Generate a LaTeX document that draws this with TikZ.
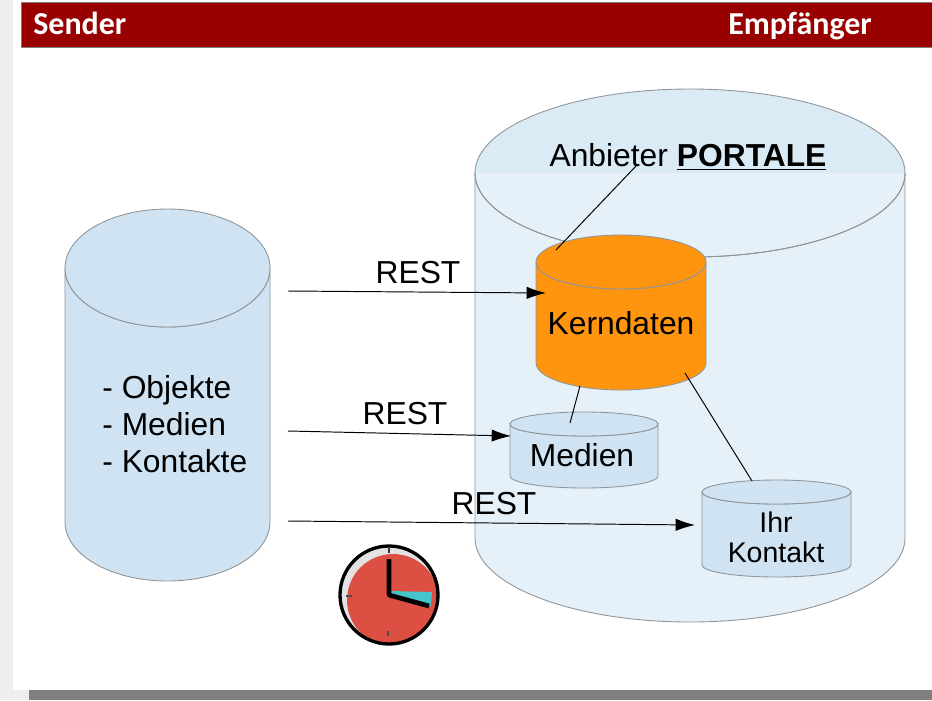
\documentclass[tikz,border=0pt]{standalone}
\usepackage{fontspec}
\setmainfont{Liberation Sans}
\newfontfamily\headfont{Carlito}
\usetikzlibrary{arrows.meta}
\tikzset{
  cylfill/.style={fill=#1,draw=cyledge,line width=0.5pt},
  conn/.style={draw=black,line width=0.55pt},
  arrowconn/.style={conn,-{Latex[length=11pt,width=7pt]}},
  lbl/.style={font=\fontsize{18.1}{21}\selectfont,inner sep=0pt,text=black},
  head/.style={font=\headfont\bfseries\fontsize{18.2}{21}\selectfont,text=white,inner sep=0pt,anchor=base west},
}
\definecolor{cyledge}{HTML}{8F9599}
\definecolor{bigcyl}{HTML}{E5F0F8}
\definecolor{bigtop}{HTML}{DBEBF6}
\definecolor{lcyl}{HTML}{CFE3F2}
\definecolor{orangec}{HTML}{FF950E}
\definecolor{darkred}{HTML}{990000}
\definecolor{pagegrey}{HTML}{EEEEEE}
\definecolor{bargrey}{HTML}{808080}
\definecolor{clockred}{HTML}{DD4F43}
\definecolor{clockcyan}{HTML}{45C4CC}
\definecolor{clockgrey}{HTML}{E2E2E2}
% #1 centre x, #2 top ellipse y, #3 bottom ellipse y, #4 rx, #5 ry, #6 colour
\newcommand\mycyl[6]{%
  \path[cylfill=#6] (#1-#4,#2) -- (#1-#4,#3) arc[start angle=180,end angle=360,x radius=#4,y radius=-#5] -- (#1+#4,#2) arc[start angle=0,end angle=180,x radius=#4,y radius=#5] -- cycle;
  \path[cylfill=#6] (#1,#2) ellipse[x radius=#4,y radius=#5];
}
\begin{document}
\begin{tikzpicture}[x=0.02cm,y=-0.02cm]
\useasboundingbox (0,0) rectangle (932,700);
\fill[pagegrey] (0,0) rectangle (932,700);
\fill[white] (13,0) rectangle (932,690);
\fill[bargrey] (29,690) rectangle (932,700);
\path[fill=darkred,draw=gray,line width=0.5pt] (21,2) rectangle (932,47);
\node[head] (sender) at (33,34) {Sender};
\node[head] (empf) at (728,34) {Empfänger};

% big cylinder
\path[cylfill=bigcyl] (475,173) -- (475,538) arc[start angle=180,end angle=360,x radius=215,y radius=-84] -- (905,173) arc[start angle=0,end angle=180,x radius=215,y radius=84] -- cycle;
\path[cylfill=bigtop] (690,173) ellipse[x radius=215,y radius=84];
\path[fill=bigcyl] (475.5,173) arc[start angle=180,end angle=360,x radius=214.5,y radius=-83.5] -- cycle;
\draw[cyledge,line width=0.5pt] (475,173) arc[start angle=180,end angle=360,x radius=215,y radius=-84];

% left cylinder
\mycyl{167.5}{268}{522}{102.5}{59}{lcyl}
% Kerndaten
\mycyl{621}{262}{363}{85}{27}{orangec}
% Medien
\mycyl{584}{424}{476}{74}{12}{lcyl}
% Ihr Kontakt
\mycyl{776.5}{492}{565}{74.5}{12}{lcyl}

\node[lbl,align=left,anchor=west] (objekte) at (102,424) {\baselineskip=36.5\dimexpr0.02cm\relax - Objekte\\ - Medien\\ - Kontakte};
\node[lbl] (portale) at (688,157) {Anbieter \textbf{\underline{PORTALE}}};
\node[lbl] (kern) at (621,323) {Kerndaten};
\node[lbl] (medien) at (582,455) {Medien};
\node[font=\fontsize{16.2}{17}\selectfont,align=center,inner sep=0pt] (kontakt) at (776,537) {Ihr\\Kontakt};
\node[lbl] (rest1) at (418,273) {REST};
\node[lbl] (rest2) at (405,414) {REST};
\node[lbl] (rest3) at (494,504) {REST};

% connectors
\coordinate (a1s) at (288,291);
\coordinate (a1e) at (546,293);
\coordinate (a2s) at (288,431);
\coordinate (a2e) at (511,436);
\coordinate (a3s) at (288,521);
\coordinate (a3e) at (695,525);
\draw[arrowconn] (a1s) -- (a1e);
\draw[arrowconn] (a2s) -- (a2e);
\draw[arrowconn] (a3s) -- (a3e);
\coordinate (l1a) at (636,166);
\coordinate (l1b) at (556,250);
\coordinate (l2a) at (580,386);
\coordinate (l2b) at (570,423);
\coordinate (l3a) at (685,373);
\coordinate (l3b) at (752,481);
\draw[conn] (l1a) -- (l1b);
\draw[conn] (l2a) -- (l2b);
\draw[conn] (l3a) -- (l3b);

% clock
\coordinate (clk) at (389,595);
\fill[clockgrey] (clk) circle[radius=49];
\begin{scope}
\clip (clk) circle[radius=48];
\fill[clockred] (393,600) circle[radius=46];
\end{scope}
\fill[clockcyan] (389,591) -- (432,592) -- (431,606) -- (389,595) -- cycle;
\draw[black,line width=1.9pt] (clk) circle[radius=49];
\draw[black!80,line width=1pt] (389,548) -- (389,553);
\draw[black!70,line width=1.2pt] (388,631) -- (388,636);
\draw[black!70,line width=1.2pt] (346,596) -- (352,596);
\draw[black,line width=2.7pt,line join=round] (389,559) -- (389,595) -- (429,606);
\end{tikzpicture}
\end{document}
